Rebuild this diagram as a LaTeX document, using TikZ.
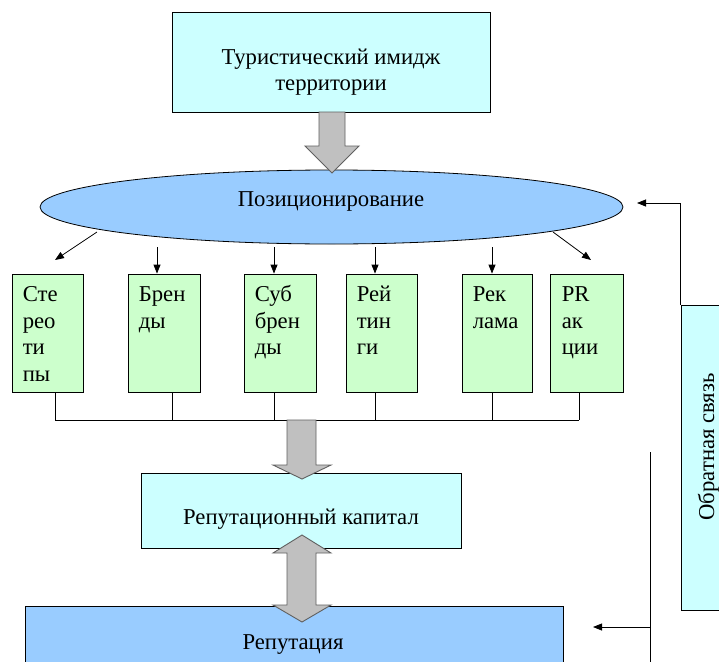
\documentclass[tikz,border=0pt]{standalone}
\usepackage{fontspec}
\setmainfont{Liberation Serif}
\usetikzlibrary{arrows.meta,shapes.geometric}
\definecolor{cyanbox}{RGB}{204,255,255}
\definecolor{bluebox}{RGB}{153,204,255}
\definecolor{greenbox}{RGB}{204,255,204}
\definecolor{garrowfill}{RGB}{192,192,192}
\definecolor{garrowline}{RGB}{96,96,96}
\begin{document}
\begin{tikzpicture}[x=1pt,y=-1pt,
  box/.style={draw=black, line width=0.8pt, inner sep=0pt},
  lbl/.style={font=\fontsize{22.7}{26}\selectfont, inner sep=0pt, align=center},
  gtxt/.style={font=\fontsize{22.7}{26.5}\selectfont, inner sep=0pt, align=left, anchor=north west},
  gbox/.style={box, fill=greenbox, minimum height=118pt},
  thinline/.style={line width=0.8pt},
  tipline/.style={line width=0.8pt, -{Triangle[length=9pt,width=7pt]}},
  blockarrow/.style={fill=garrowfill, draw=garrowline, line width=0.9pt, line join=miter}]
\useasboundingbox (0,0) rectangle (719,661);
\begin{scope}
\clip (0,0) rectangle (719,661);
\fill[white] (0,0) rectangle (719,661);

% top box
\node[box, fill=cyanbox, minimum width=318pt, minimum height=100pt] (top) at (331,62) {};
\node[lbl] (toptxt) at (331,72) {Туристический имидж\\территории};

% ellipse
\node[draw=black, line width=0.8pt, ellipse, fill=bluebox, minimum width=583pt, minimum height=74pt, inner sep=0pt] (ell) at (331.5,207) {};
\node[lbl] (elltxt) at (331,201) {Позиционирование};

% green boxes
\node[gbox, minimum width=71pt] (b1) at (47.5,333) {};
\node[gbox, minimum width=72pt] (b2) at (164,333) {};
\node[gbox, minimum width=72pt] (b3) at (280,333) {};
\node[gbox, minimum width=71pt] (b4) at (381.5,333) {};
\node[gbox, minimum width=70pt] (b5) at (497,333) {};
\node[gbox, minimum width=73pt] (b6) at (586.5,333) {};
\node[gtxt] (t1) at ([shift={(11,9.5)}]b1.north west) {\strut Сте\\рео\\ти\\пы};
\node[gtxt] (t2) at ([shift={(11,9.5)}]b2.north west) {\strut Брен\\ды};
\node[gtxt] (t3) at ([shift={(11,9.5)}]b3.north west) {\strut Суб\\брен\\ды};
\node[gtxt] (t4) at ([shift={(11,9.5)}]b4.north west) {\strut Рей\\тин\\ги};
\node[gtxt] (t5) at ([shift={(11,9.5)}]b5.north west) {\strut Рек\\лама};
\node[gtxt] (t6) at ([shift={(12,9.5)}]b6.north west) {\strut PR\\ак\\ции};

% arrows from ellipse
\coordinate (s1) at (97,232);  \coordinate (e1) at (55,260);
\coordinate (s2) at (157,247);
\coordinate (s3) at (274,247);
\coordinate (s4) at (375,247);
\coordinate (s5) at (492,247);
\coordinate (s6) at (553,232); \coordinate (e6) at (591,260);
\draw[tipline] (s1) -- (e1);
\draw[tipline] (s2) -- (s2 |- b2.north);
\draw[tipline] (s3) -- (s3 |- b3.north);
\draw[tipline] (s4) -- (s4 |- b4.north);
\draw[tipline] (s5) -- (s5 |- b5.north);
\draw[tipline] (s6) -- (e6);

% collecting bus
\coordinate (j1) at (55,420);
\coordinate (j2) at (172,420);
\coordinate (j3) at (274,420);
\coordinate (j4) at (375,420);
\coordinate (j5) at (492,420);
\coordinate (j6) at (579,420);
\draw[thinline] (b1.south -| j1) -- (j1);
\draw[thinline] (b2.south -| j2) -- (j2);
\draw[thinline] (b3.south -| j3) -- (j3);
\draw[thinline] (b4.south -| j4) -- (j4);
\draw[thinline] (b5.south -| j5) -- (j5);
\draw[thinline] (b6.south -| j6) -- (j6);
\draw[thinline] (j1) -- (j6);

% reputation capital
\node[box, fill=cyanbox, minimum width=320pt, minimum height=75pt] (cap) at (301,510.5) {};
\node[lbl] (captxt) at (301,519) {Репутационный капитал};

% reputation
\node[box, fill=bluebox, minimum width=538pt, minimum height=94pt] (rep) at (294,653) {};
\node[lbl] (reptxt) at (293,645) {Репутация};

% feedback box
\node[box, fill=cyanbox, minimum width=49pt, minimum height=305pt] (fb) at (705.5,457.5) {};
\node[lbl, rotate=90] (fbtxt) at (708.3,447) {Обратная связь};

% feedback lines
\coordinate (fbtip) at (637,203);
\draw[tipline] (fb.north west) |- (fbtip);
\coordinate (v1) at (650,452);
\coordinate (v2) at (650,668);
\coordinate (h1) at (650,627);
\coordinate (h1tip) at (593,627);
\draw[thinline] (v1) -- (v2);
\draw[tipline] (h1) -- (h1tip);

% block arrows
\draw[blockarrow] (319,112) -- (319,146) -- (305,146) -- (332,173) -- (359,146) -- (345,146) -- (345,112) -- cycle;
\draw[blockarrow] (287,420) -- (287,465) -- (273,465) -- (302,479) -- (331,465) -- (316,465) -- (316,420) -- cycle;
\draw[blockarrow] (302,535) -- (331,553) -- (316,553) -- (316,605) -- (331,605) -- (302,622) -- (273,605) -- (287,605) -- (287,553) -- (273,553) -- cycle;
\end{scope}
\end{tikzpicture}
\end{document}
